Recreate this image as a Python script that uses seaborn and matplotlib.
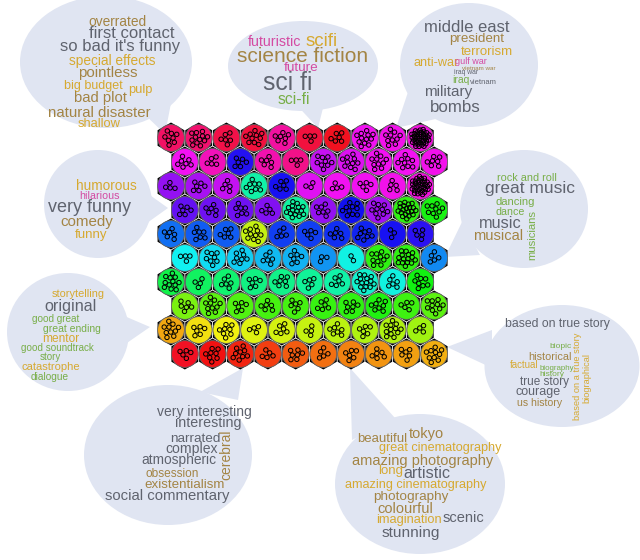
import colorsys
import numpy as np
import pandas as pd
import matplotlib
matplotlib.use("Agg")
import matplotlib.pyplot as plt
from matplotlib.patches import Ellipse, Polygon, RegularPolygon, Circle
import seaborn as sns

# SOM grid: hue (degrees) of each unit, top row first
unit_hue = [
    [338, 335, 345, 348, 322, 348, 356, 300, 302, 305],
    [300, 315, 245, 318, 328, 288, 294, 300, 300, 302],
    [275, 280, 288, 160, 242, 295, 300, 300, 302, 305],
    [262, 265, 265, 270, 158, 275, 240, 278, 112, 118],
    [215, 220, 220, 72, 228, 228, 232, 235, 242, 247],
    [180, 186, 190, 195, 197, 205, 176, 112, 112, 208],
    [135, 141, 145, 150, 152, 156, 160, 170, 175, 120],
    [92, 100, 103, 106, 106, 110, 112, 116, 108, 100],
    [40, 55, 60, 65, 68, 72, 75, 78, 78, 82],
    [355, 0, 5, 12, 20, 25, 30, 35, 38, 42],
]

# number of movies mapped to each unit
unit_count = [
    [8, 12, 6, 10, 7, 4, 6, 12, 10, 40],
    [7, 5, 6, 6, 4, 9, 10, 10, 9, 7],
    [4, 6, 5, 8, 6, 3, 4, 5, 5, 35],
    [6, 6, 7, 5, 15, 7, 10, 10, 20, 9],
    [6, 7, 6, 10, 5, 5, 6, 8, 3, 5],
    [4, 8, 8, 6, 7, 3, 2, 10, 15, 5],
    [12, 4, 6, 6, 7, 5, 6, 14, 6, 8],
    [6, 10, 6, 6, 6, 6, 7, 8, 5, 10],
    [10, 6, 8, 4, 6, 4, 7, 6, 12, 4],
    [5, 8, 9, 5, 7, 5, 6, 6, 6, 10],
]

# tag clouds: words and their weights (font size, pt)
badmovie_words = ["overrated", "first contact", "so bad it's funny", "special effects", "pointless",
                  "big budget", "pulp", "bad plot", "natural disaster", "shallow"]
badmovie_weights = [9.9, 12, 12, 9.8, 10.8, 9, 9.3, 10.7, 10.8, 9.3]

scifi_words = ["futuristic", "scifi", "science fiction", "future", "sci fi", "sci-fi"]
scifi_weights = [10.3, 13.5, 15, 9.7, 17.8, 11.3]

war_words = ["middle east", "president", "terrorism", "anti-war", "gulf war", "vietnam war",
             "iraq war", "iraq", "vietnam", "military", "bombs"]
war_weights = [12, 9.6, 9.5, 9.1, 6.5, 4.5, 4.9, 7.5, 5.5, 11, 12.2]

comedy_words = ["humorous", "hilarious", "very funny", "comedy", "funny"]
comedy_weights = [9.8, 7.7, 13, 10.9, 9.5]

music_words = ["rock and roll", "great music", "dancing", "dance", "music", "musical", "musicians"]
music_weights = [7.8, 12.5, 8.1, 7.7, 11.7, 10.5, 8.1]

story_words = ["storytelling", "original", "good great", "great ending", "mentor",
               "good soundtrack", "story", "catastrophe", "dialogue"]
story_weights = [7.9, 11.6, 7.2, 7.5, 8.6, 7.1, 7, 8, 7.3]

true_words = ["based on true story", "biopic", "historical", "factual", "biography", "history",
              "true story", "courage", "us history", "based on a true story", "biographical"]
true_weights = [8.8, 6, 7.8, 6.9, 5.7, 6, 8.5, 9, 7.6, 6.7, 6.7]

cerebral_words = ["very interesting", "interesting", "narrated", "complex", "atmospheric",
                  "obsession", "existentialism", "social commentary", "cerebral"]
cerebral_weights = [10, 10.3, 9.7, 10.1, 9.9, 8.6, 9.6, 10.7, 10]

visual_words = ["beautiful", "tokyo", "great cinematography", "amazing photography", "long",
                "artistic", "amazing cinematography", "photography", "colourful", "imagination",
                "scenic", "stunning"]
visual_weights = [9.5, 10.5, 9.1, 10.5, 9.5, 11.6, 9.1, 9.7, 10.5, 9.3, 10.5, 11.1]

# ---- layout (pixel coords, y down) ----
GREY, BROWN, GOLD, GREEN, PINK = "#5f636e", "#a38444", "#d6a930", "#78ae48", "#d44aa2"
BUBBLE = "#e0e5f2"

clouds = [
    # words, weights, centre xy, colors, rotated, ellipse (cx, cy, w, h), tail
    (badmovie_words, badmovie_weights,
     [(117, 22), (132, 34), (120, 47), (112, 61), (108, 73), (93, 86), (140, 90), (101, 98), (99, 113), (99, 124)],
     [BROWN, GREY, GREY, GOLD, BROWN, GOLD, GOLD, BROWN, BROWN, GOLD], [],
     (106, 62, 172, 132), [(142, 112), (172, 98), (165, 134)]),
    (scifi_words, scifi_weights,
     [(275, 42), (322, 41), (303, 56), (301, 68), (288, 83), (294, 100)],
     [PINK, GOLD, BROWN, PINK, GREY, GREEN], [],
     (303, 66, 150, 90), [(292, 100), (325, 100), (318, 128)]),
    (war_words, war_weights,
     [(467, 28), (477, 39), (487, 52), (436, 63), (471, 61), (479, 68), (466, 72), (461, 80), (483, 82), (448, 92), (455, 107)],
     [GREY, BROWN, GOLD, GOLD, PINK, BROWN, GREY, GREEN, GREY, GREY, GREY], [],
     (469, 65, 138, 124), [(408, 92), (440, 118), (396, 128)]),
    (comedy_words, comedy_weights,
     [(106, 186), (99, 196), (90, 208), (87, 222), (91, 235)],
     [GOLD, PINK, GREY, BROWN, GOLD], [],
     (98, 204, 108, 108), [(140, 188), (140, 228), (168, 208)]),
    (music_words, music_weights,
     [(527, 178), (530, 189), (515, 202), (510, 212), (500, 223), (498, 236), (532, 235)],
     [GREEN, GREY, GREEN, GREEN, GREY, BROWN, GREEN], ["musicians"],
     (524, 209, 128, 118), [(462, 222), (480, 255), (445, 257)]),
    (story_words, story_weights,
     [(78, 294), (71, 306), (56, 319), (72, 329), (61, 339), (57, 348), (50, 357), (51, 367), (50, 377)],
     [GOLD, GREY, GREEN, GREEN, GOLD, GREEN, GREEN, GOLD, GREEN], [],
     (68, 332, 122, 118), [(122, 315), (124, 345), (150, 327)]),
    (true_words, true_weights,
     [(557, 324), (561, 347), (550, 357), (524, 365), (557, 368), (552, 374), (545, 382), (538, 392), (540, 403), (577, 376), (587, 378)],
     [GREY, GREEN, BROWN, GOLD, GREEN, GREEN, GREY, GREY, BROWN, GOLD, GOLD], ["based on a true story", "biographical"],
     (562, 366, 155, 122), [(492, 330), (492, 368), (447, 347)]),
    (cerebral_words, cerebral_weights,
     [(204, 412), (208, 423), (195, 439), (192, 449), (179, 460), (172, 474), (185, 485), (167, 496), (226, 455)],
     [GREY, GREY, GREY, GREY, GREY, BROWN, BROWN, GREY, BROWN], ["cerebral"],
     (168, 455, 168, 140), [(200, 392), (238, 400), (243, 368)]),
    (visual_words, visual_weights,
     [(382, 439), (426, 434), (440, 448), (423, 461), (391, 471), (427, 474), (416, 485), (411, 497), (405, 509), (409, 520), (463, 518), (411, 533)],
     [BROWN, BROWN, GOLD, BROWN, GOLD, GREY, GOLD, BROWN, BROWN, GOLD, GREY, GREY], [],
     (420, 484, 170, 140), [(352, 440), (395, 418), (350, 368)]),
]

sns.set_theme(style="white")
plt.rcParams['font.family'] = ['Liberation Sans', 'DejaVu Sans']

fig = plt.figure(figsize=(6.4, 5.6), dpi=100)
ax = fig.add_axes([0, 0, 1, 1])

# speech bubbles
for words, weights, xy, cols, rot, ell, tail in clouds:
    cx, cy, w, h = ell
    ax.add_patch(Ellipse((cx, cy), w, h, fc=BUBBLE, ec="white", lw=2.5, zorder=1))
    ax.add_patch(Polygon(tail, closed=True, fc=BUBBLE, ec="white", lw=2.5, zorder=1))
    ax.add_patch(Ellipse((cx, cy), w, h, fc=BUBBLE, ec="none", zorder=1))
    ax.add_patch(Polygon(tail, closed=True, fc=BUBBLE, ec="none", zorder=1))
    for word, size, (x, y), c in zip(words, weights, xy, cols):
        ax.text(x, y, word, fontsize=size, color=c, ha='center', va='center',
                rotation=90 if word in rot else 0, zorder=6)

# hexagonal SOM units
dx, dy = 27.7, 24.0
x0, y0 = 171.0, 138.0
pts = []
golden = np.pi * (3 - np.sqrt(5))
for r in range(10):
    for c in range(10):
        ux = x0 + c * dx + (r % 2) * dx / 2
        uy = y0 + r * dy
        rgb = colorsys.hsv_to_rgb(unit_hue[r][c] / 360, 0.93, 0.95)
        ax.add_patch(RegularPolygon((ux, uy), 6, radius=15.5, fc="black", ec="none", zorder=3))
        ax.add_patch(Circle((ux, uy), 13.4, fc=rgb, ec="#666666", lw=0.6, zorder=4))
        # members spread over the unit (sunflower arrangement)
        n = unit_count[r][c]
        spread = min(9.5, 2.9 * np.sqrt(n))
        for k in range(n):
            rad = spread * np.sqrt((k + 0.5) / n)
            pts.append((ux + rad * np.cos(k * golden + r + c), uy + rad * np.sin(k * golden + r + c)))

df = pd.DataFrame(pts, columns=["x", "y"])
sns.scatterplot(data=df, x="x", y="y", ax=ax, marker="o", s=10, linewidth=0.7, zorder=5, legend=False)
coll = ax.collections[-1]
coll.set_facecolor("none")
coll.set_edgecolor("black")
ax.set_xlim(0, 640)
ax.set_ylim(560, 0)
ax.axis('off')

fig.savefig("out.png", dpi=100, facecolor="white")
